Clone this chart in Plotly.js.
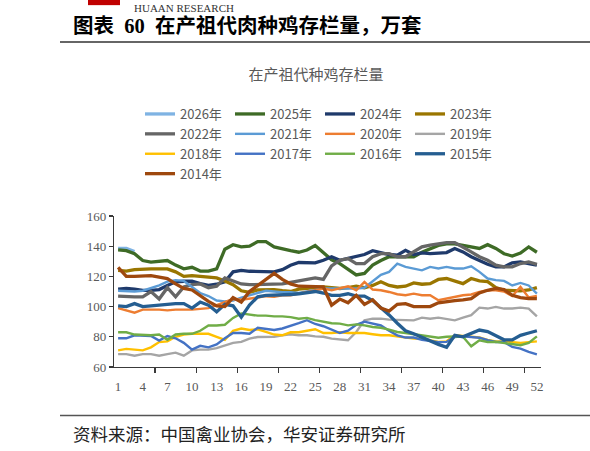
<!DOCTYPE html>
<html>
<head>
<meta charset="utf-8">
<script src="https://cdn.plot.ly/plotly-3.0.1.min.js"></script>
<style>
html,body{margin:0;padding:0;background:#fff;}
#chart{width:590px;height:451px;}
</style>
</head>
<body>
<div id="chart"></div>
<script>
const weeks = Array.from({length: 52}, (_, i) => i + 1);
const weekTicks = [1,4,7,10,13,16,19,22,25,28,31,34,37,40,43,46,49,52];
const seriesNames = ['2026年','2025年','2024年','2023年','2022年','2021年','2020年','2019年','2018年','2017年','2016年','2015年','2014年'];

const s2026 = [138.5,138.5,136.5];
const s2025 = [137.5,137,135,130.5,129.5,130,130.5,127.5,125,126,123.5,123.5,125,138,141,139.5,140,143,143,139.5,138,137,136,137.5,140.5,136,131,128.5,125,121,122,127.5,130.5,133,133,133,133,136,138.5,140.5,141.5,141.5,140.5,139.5,138.5,141,138.5,135,133.5,135.5,139.5,136];
const s2024 = [111.5,112,111.5,110.8,110.8,111.3,114,116.4,116.8,116.8,115.2,114,114.8,116.4,123,124,123.4,123.4,123.4,123,124.5,127.4,129.2,129.2,129,130.7,133,130.7,131.8,133,134.5,137,135.6,134.5,134,137.3,134.5,135.6,135.1,135.5,135.8,138.5,136.2,133,130.7,128,126.3,126.3,129,129.6,128.5,127.4];
const s2023 = [124,123.5,124.5,125,125,125,125,123,120,120.5,120,120,119,117,114.5,110.5,109.5,111,111,111.3,110.5,110,111.5,112,112.5,113,112.5,112,112.5,113.5,112.5,114,116.4,114,113,113.5,115.7,114.8,115.2,118,118.6,116.8,115.2,118.6,117,116.5,112.6,110.8,110.8,110.4,111,112.6];
const s2022 = [107,106.5,106.5,106.5,110,105,112.5,106.5,113,114.5,115,112.5,113.5,119,117,115,114.5,114.5,114.5,114.5,115,116,117,118.5,119,118,127,130.7,131.8,128.5,128.5,133,135.1,135.1,133,133,136.2,139.6,140.7,141.8,142.4,142.4,139.6,136.2,133,130.7,127.4,126.3,126.3,128.5,129.6,128];
const s2021 = [110.5,110,110,110.5,112,114,116.5,117.5,117,113,109,107,104,103.5,104,106,107.5,109.5,110.5,110,109.5,109.5,109,110,111,112,112,112,112,112,112.5,116.5,121,123,128.5,126.3,125.2,124,126.3,125.2,126.3,125.2,125.2,126.7,123,118.6,117.5,117,114,115.7,114,108.6];
const s2020 = [99,97.5,96,98,98,98,97.5,98,98,98,98.5,99,101,103,105,104.5,105,106,106.9,106.5,107.5,107.5,108.6,109.7,110.8,112,110.8,112,113.5,110.8,116.4,111.3,110.8,109.7,108.2,107.5,108.6,107.5,107.5,104.2,105.3,106.4,107.5,108,109.7,110.8,110.8,110,107,113,106,107];
const s2019 = [68.5,68.5,67.5,68.5,68.5,67.5,68.5,69.5,67.5,71,71.5,71.5,72.5,74.5,76,76.6,78.8,79.9,80,80,81,81.7,81,81,80.3,80,78.8,78.1,77.7,83.2,90.9,92,92,91.4,91.4,90.9,90.9,92.7,92,92.7,92,90.9,92.7,94.3,99.3,98.7,99.8,98.7,98.7,99.3,98.7,93.6];
const s2018 = [71,72,71.5,71,73,76.5,77,80,81.5,82,82,82,80,78,84,85.5,84.5,85,83.2,81.5,81,83,83,84,85,82.5,82.5,83,82.5,82.5,82.5,81.7,81,81,80.3,79.9,78.8,78.8,77.7,76.6,77,81,80.5,80,79.5,78,77,77,76.5,76,76.5,77];
const s2017 = [79,79,81,81,80.5,77.5,80.5,79,76,71.5,74,73,75,79,82.5,82.5,82,86,85,84.5,85.5,87,89,91,88.5,87,85,82.5,84,88,90,89,87.5,84,81,79.5,79.5,78,77,76.5,76.6,79.9,80.3,79.9,79.4,77.7,76.6,76.6,73.3,72.2,70,68.4];
const s2016 = [83,83,81.5,81,81,81.5,78,81.5,82,82,84,87.5,87.5,88,92.5,95.5,95,94,94,93.5,93.5,93,92,92.5,91,90,89,88.7,87.6,88.2,87.6,86.5,86,84.8,83.2,82.5,81.7,81,80.5,79.4,80,80.3,80,73.7,77.7,76.6,76.6,76,75.5,74.4,76,80.3];
const s2015 = [100.5,100,102,100,100.5,101,102,102,102,99,103,101,96.5,101.5,100.5,93,101,106.5,107.5,107.5,108,108,108.5,109,110,109,107.5,107.5,108.5,107,107,104,99.5,94.5,89,84,82,79.5,77.5,75,73,81,80,82,84.5,83.5,81,78,78,81,82.5,84];
const s2014 = [126,120,120,120.5,120.5,119.5,118.5,115,112,111,107,103.5,100.5,100,106,103,110,114,117.5,122,118,115,113.5,113.5,113,113,101,105,102.5,107.5,101.5,104.5,99,97,101.5,102,100,100,100,102.5,103.5,104,104.5,105.3,109,110.8,112,111.3,107.5,106,105.3,105.3];

const seriesValues = [s2026,s2025,s2024,s2023,s2022,s2021,s2020,s2019,s2018,s2017,s2016,s2015,s2014];
const seriesColors = ['#7FB3E3','#3E6B26','#1F3A6B','#9A7600','#666666','#5B9BD5','#ED7D31','#A5A5A5','#FFC000','#4472C4','#70AD47','#255E91','#9E480E'];
const seriesWidths = [3.3,3.3,3.3,3.3,3.3,2.4,2.4,2.4,2.4,2.4,2.4,3.3,3.3];

// layout geometry (pixels)
const W = 590, H = 451;
const L = 114, R = 49, T = 215.7, B = 83.7;
const PW = W - L - R, PH = H - T - B;
const px = x => (x - L) / PW;
const py = y => (H - B - y) / PH;

const traces = seriesNames.map((name, i) => ({
  type: 'scatter',
  mode: 'lines',
  name: name,
  x: weeks.slice(0, seriesValues[i].length),
  y: seriesValues[i],
  line: {color: seriesColors[i], width: seriesWidths[i]},
  hoverinfo: 'x+y+name'
}));

const minorTicks = [];
for (let v = 5.5; v < 52.5; v += 5) minorTicks.push(v);

const tickFont = {family: 'Liberation Serif, Times New Roman, serif', size: 13, color: '#595959'};

const layout = {
  width: W, height: H,
  margin: {l: L, r: R, t: T, b: B, pad: 0},
  paper_bgcolor: '#ffffff',
  plot_bgcolor: '#ffffff',
  showlegend: true,
  title: {
    text: '在产祖代种鸡存栏量',
    xref: 'container', yref: 'container',
    x: 316 / W, xanchor: 'center',
    y: 1 - 75 / H, yanchor: 'middle',
    font: {family: 'Noto Sans CJK SC', size: 15, color: '#595959'}
  },
  legend: {
    orientation: 'h',
    xref: 'container', yref: 'container',
    x: 140 / W, xanchor: 'left',
    y: 1 - 99 / H, yanchor: 'top',
    entrywidth: 45, entrywidthmode: 'pixels',
    traceorder: 'normal',
    bgcolor: 'rgba(0,0,0,0)',
    font: {family: 'Noto Sans CJK SC', size: 13, color: '#595959'}
  },
  xaxis: {
    range: [0.5, 52.5],
    tickmode: 'array',
    tickvals: weekTicks,
    ticktext: weekTicks.map(String),
    ticks: '',
    ticklabelstandoff: 7,
    tickfont: tickFont,
    showgrid: false,
    zeroline: false,
    showline: true,
    linecolor: '#3a3a3a',
    linewidth: 1.2,
    minor: {tickmode: 'array', tickvals: minorTicks, ticks: 'outside', ticklen: 5, tickwidth: 1.2, tickcolor: '#3a3a3a', showgrid: false},
    fixedrange: true
  },
  yaxis: {
    range: [60, 160],
    tickmode: 'linear', tick0: 60, dtick: 20,
    ticks: 'outside', ticklen: 4, tickwidth: 1.2, tickcolor: '#3a3a3a',
    tickfont: tickFont,
    showgrid: false,
    zeroline: false,
    showline: true,
    linecolor: '#3a3a3a',
    linewidth: 1.2,
    fixedrange: true
  },
  shapes: [
    {type: 'rect', xref: 'paper', yref: 'paper', x0: px(88), x1: px(120), y0: py(-2), y1: py(4), fillcolor: '#C00000', line: {width: 0}},
    {type: 'line', xref: 'paper', yref: 'paper', x0: px(60), x1: px(592), y0: py(41), y1: py(41), line: {color: '#333333', width: 1.5}},
    {type: 'line', xref: 'paper', yref: 'paper', x0: px(60), x1: px(592), y0: py(416), y1: py(416), line: {color: '#555555', width: 1.5}}
  ],
  annotations: [
    {xref: 'paper', yref: 'paper', x: px(132), y: py(6.5), xanchor: 'left', yanchor: 'middle', showarrow: false,
     text: 'HUAAN RESEARCH', font: {family: 'Liberation Serif, serif', size: 11, color: '#333333'}},
    {xref: 'paper', yref: 'paper', x: px(71), y: py(25), xanchor: 'left', yanchor: 'middle', showarrow: false,
     text: '<b>图表  60  在产祖代肉种鸡存栏量，万套</b>', font: {family: 'Liberation Serif, Noto Sans CJK SC', size: 20.5, color: '#000000'}},
    {xref: 'paper', yref: 'paper', x: px(71), y: py(434.5), xanchor: 'left', yanchor: 'middle', showarrow: false,
     text: '资料来源：中国禽业协会，华安证券研究所', font: {family: 'Noto Sans CJK SC', size: 17.5, color: '#222222'}}
  ]
};

Plotly.newPlot('chart', traces, layout, {displayModeBar: false, staticPlot: true});
</script>
</body>
</html>
